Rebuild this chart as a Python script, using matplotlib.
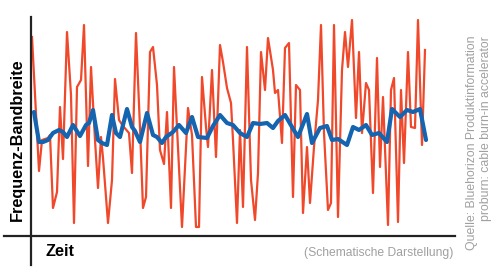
import matplotlib
matplotlib.use("Agg")
import matplotlib.pyplot as plt

# %% data (time in px-like units, amplitude in arbitrary units)

red_t = [1, 8, 11, 17, 19, 22, 26, 29, 32, 36, 40, 43, 46, 50, 53, 57, 60, 64, 67, 70,
         72, 77, 81, 84, 88, 92, 98, 101, 105, 109, 112, 115, 119, 122, 126, 129, 133,
         136, 140, 143, 147, 151, 157, 161, 165, 168, 171, 175, 177, 181, 185, 189,
         192, 196, 200, 202, 206, 209, 212, 216, 220, 224, 227, 230, 234, 237, 242,
         244, 247, 251, 254, 258, 262, 265, 269, 272, 276, 279, 283, 287, 290, 293,
         297, 300, 303, 307, 311, 314, 317, 321, 325, 328, 331, 335, 338, 342, 346,
         349, 352, 357, 360, 363, 367, 370, 373, 377, 380, 384, 387, 391, 394]
red_v = [199, 65, 96, 98, 101, 28, 44, 129, 77, 204, 141, 13, 149, 156, 211, 70, 169,
         96, 48, 99, 78, 13, 56, 157, 116, 110, 103, 63, 203, 108, 28, 39, 184, 189,
         151, 86, 72, 124, 28, 169, 88, 9, 128, 101, 9, 9, 159, 109, 89, 166, 79, 191,
         174, 148, 133, 96, 13, 106, 29, 189, 56, 16, 63, 184, 146, 198, 166, 143, 146,
         93, 188, 193, 39, 151, 146, 23, 89, 33, 89, 136, 211, 103, 26, 33, 211, 19,
         166, 204, 169, 216, 118, 184, 103, 153, 146, 43, 178, 69, 139, 11, 146, 158,
         14, 146, 73, 184, 109, 108, 216, 91, 186]

blue_t = [3, 8, 12, 17, 22, 28, 32, 36, 42, 49, 55, 58, 62, 67, 71, 76, 81, 85, 89, 96,
          101, 104, 109, 116, 122, 126, 131, 135, 142, 148, 155, 161, 167, 176, 182,
          189, 196, 202, 209, 216, 222, 229, 236, 242, 247, 254, 261, 267, 276, 281,
          289, 296, 301, 307, 316, 322, 328, 335, 341, 348, 356, 361, 369, 376, 382,
          389, 395]
blue_v = [124, 94, 94, 96, 103, 106, 104, 99, 111, 100, 111, 113, 126, 96, 93, 91, 121,
          103, 99, 127, 109, 105, 94, 123, 101, 99, 93, 99, 104, 111, 103, 119, 99, 98,
          110, 121, 113, 111, 103, 99, 113, 112, 113, 108, 115, 121, 109, 99, 122, 93,
          108, 110, 96, 97, 91, 109, 106, 111, 101, 103, 94, 127, 119, 126, 124, 127, 96]

# %% figure

fs = 11.7
red = '#f0482b'
blue = '#1464b0'
grey = '#a0a0a0'

fig = plt.figure(figsize=(5, 2.69), dpi=100)
ax = fig.add_axes([4/500, 4/269, 451/500, 248/269])

ax.plot(red_t, red_v, color=red, lw=1.6, solid_joinstyle='round', zorder=2)
ax.plot(blue_t, blue_v, color=blue, lw=3.0, solid_joinstyle='round',
        solid_capstyle='round', zorder=3)

ax.set_xlim(-27, 424)
ax.set_ylim(-29, 219)
for side in ['top', 'right']:
    ax.spines[side].set_visible(False)
for side in ['left', 'bottom']:
    ax.spines[side].set_position(('data', 0))
    ax.spines[side].set_color('#222222')
    ax.spines[side].set_linewidth(1.6)
ax.set_xticks([])
ax.set_yticks([])
ax.patch.set_alpha(0)

font = ['Liberation Sans', 'DejaVu Sans']
fig.text(17/500, 1 - 139.5/269, 'Frequenz-Bandbreite', rotation=90, ha='center',
         va='center', fontsize=fs, fontweight='bold', family=font)
fig.text(46/500, 1 - 256/269, 'Zeit', ha='left', va='baseline', fontsize=fs,
         fontweight='bold', family=font)
fig.text(453/500, 1 - 256/269, '(Schematische Darstellung)', ha='right',
         va='baseline', fontsize=8.7, color=grey, family=font)
fig.text(479/500, 1 - 36/269,
         'Quelle: Bluehorizon Produktinformation\nproburn: cable burn-in accelerator',
         rotation=90, ha='center', va='top', multialignment='right', fontsize=8.8,
         color=grey, family=font, linespacing=1.15)

fig.savefig('out.png', dpi=100)
